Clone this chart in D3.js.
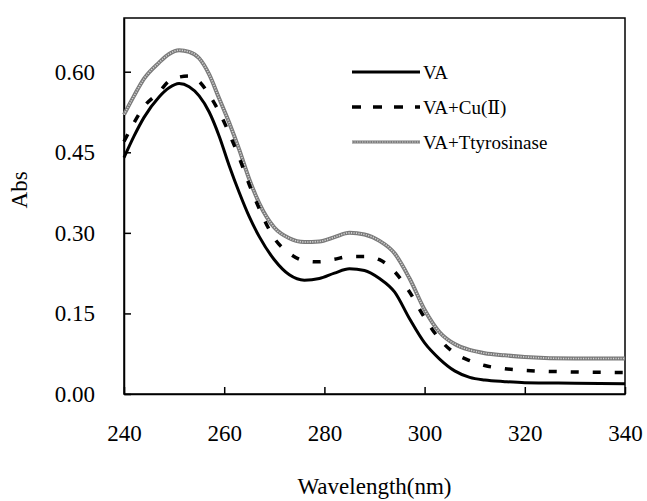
<!DOCTYPE html>
<html>
<head>
<meta charset="utf-8">
<script src="https://cdn.jsdelivr.net/npm/d3@7/dist/d3.min.js"></script>
<style>
  body { margin: 0; background: #fff; }
</style>
</head>
<body>
<svg id="chart" width="647" height="501"></svg>
<script>
// wavelengths (nm) sampled along each curve
var wl = [240, 242, 244, 247, 249, 251, 253, 255, 257, 259, 261, 263, 265, 267, 270, 273, 276, 279, 282, 285, 288, 291, 294, 297, 300, 303, 306, 309, 312, 316, 320, 330, 340];

// absorbance
var va    = [0.44, 0.48, 0.515, 0.553, 0.57, 0.578, 0.572, 0.555, 0.525, 0.48, 0.425, 0.375, 0.33, 0.293, 0.25, 0.222, 0.212, 0.215, 0.225, 0.233, 0.23, 0.215, 0.19, 0.14, 0.095, 0.065, 0.043, 0.031, 0.026, 0.023, 0.021, 0.02, 0.019];
var vaCu  = [0.47, 0.505, 0.535, 0.562, 0.583, 0.59, 0.592, 0.582, 0.557, 0.525, 0.485, 0.44, 0.39, 0.345, 0.29, 0.262, 0.248, 0.246, 0.251, 0.256, 0.256, 0.25, 0.228, 0.19, 0.142, 0.102, 0.076, 0.062, 0.053, 0.047, 0.044, 0.041, 0.04];
var vaTyr = [0.52, 0.555, 0.587, 0.617, 0.633, 0.64, 0.637, 0.625, 0.595, 0.55, 0.505, 0.455, 0.40, 0.355, 0.31, 0.29, 0.283, 0.284, 0.292, 0.30, 0.297, 0.285, 0.262, 0.215, 0.157, 0.115, 0.093, 0.082, 0.076, 0.072, 0.069, 0.066, 0.066];

var xTicks = [240, 260, 280, 300, 320, 340];
var yTicks = [0, 0.15, 0.30, 0.45, 0.60];
var seriesNames = ["VA", "VA+Cu(\u2161)", "VA+Ttyrosinase"];

var FONT = "'Liberation Serif', 'Times New Roman', 'DejaVu Serif', 'Noto Serif', serif";

var margin = {top: 18, right: 22, bottom: 107, left: 124};
var width = 647 - margin.left - margin.right,
    height = 501 - margin.top - margin.bottom;

var svg = d3.select("#chart").attr("font-family", FONT);
var g = svg.append("g")
    .attr("transform", "translate(" + margin.left + "," + margin.top + ")");

var x = d3.scaleLinear().domain([240, 340]).range([0, width]);
var y = d3.scaleLinear().domain([0, 0.7]).range([height, 0]);

// frame
g.append("rect")
    .attr("width", width).attr("height", height)
    .attr("fill", "none").attr("stroke", "#000").attr("stroke-width", 1.5);

// axes, ticks pointing inwards
var xAxis = g.append("g")
    .attr("transform", "translate(0," + height + ")")
    .call(d3.axisBottom(x).tickValues(xTicks).tickSizeInner(-7).tickSizeOuter(0).tickPadding(31));
var yAxis = g.append("g")
    .call(d3.axisLeft(y).tickValues(yTicks).tickFormat(d3.format(".2f")).tickSizeInner(-7).tickSizeOuter(0).tickPadding(29));

[xAxis, yAxis].forEach(function(a) {
    a.attr("font-family", FONT).attr("font-size", 23);
    a.select(".domain").attr("stroke-width", 1.5);
    a.selectAll(".tick line").attr("stroke-width", 1.5);
    a.selectAll(".tick text").attr("fill", "#000");
});

// axis titles
g.append("text")
    .attr("x", width / 2).attr("y", height + 100)
    .attr("text-anchor", "middle")
    .attr("font-size", 23)
    .text("Wavelength(nm)");
g.append("text")
    .attr("transform", "translate(" + (19 - margin.left) + "," + y(0.38) + ") rotate(-90)")
    .attr("text-anchor", "middle")
    .attr("dy", "0.35em")
    .attr("font-size", 23)
    .text("Abs");

var line = d3.line()
    .x(function(d) { return x(d[0]); })
    .y(function(d) { return y(d[1]); })
    .curve(d3.curveMonotoneX);

function pairs(vals) { return wl.map(function(w, i) { return [w, vals[i]]; }); }

// VA + tyrosinase: grey textured line
g.append("path").datum(pairs(vaTyr))
    .attr("d", line).attr("fill", "none")
    .attr("stroke", "#7a7a7a").attr("stroke-width", 4);
g.append("path").datum(pairs(vaTyr))
    .attr("d", line).attr("fill", "none")
    .attr("stroke", "#d4d4d4").attr("stroke-width", 1.6).attr("stroke-dasharray", "1.2,1.3");

// VA + Cu(II): dashed
g.append("path").datum(pairs(vaCu))
    .attr("d", line).attr("fill", "none")
    .attr("stroke", "#000").attr("stroke-width", 3.5).attr("stroke-dasharray", "8,14");

// VA: solid
g.append("path").datum(pairs(va))
    .attr("d", line).attr("fill", "none")
    .attr("stroke", "#000").attr("stroke-width", 3);

// legend
var legend = svg.append("g").attr("transform", "translate(352,72)");
var rowGap = 35;
legend.append("line").attr("x1", 0).attr("x2", 68).attr("y1", 0).attr("y2", 0)
    .attr("stroke", "#000").attr("stroke-width", 3);
legend.append("line").attr("x1", 0).attr("x2", 68).attr("y1", rowGap).attr("y2", rowGap)
    .attr("stroke", "#000").attr("stroke-width", 3.5).attr("stroke-dasharray", "9,12");
legend.append("line").attr("x1", 0).attr("x2", 68).attr("y1", 2 * rowGap).attr("y2", 2 * rowGap)
    .attr("stroke", "#7a7a7a").attr("stroke-width", 3);
legend.append("line").attr("x1", 0).attr("x2", 68).attr("y1", 2 * rowGap).attr("y2", 2 * rowGap)
    .attr("stroke", "#d4d4d4").attr("stroke-width", 1.2).attr("stroke-dasharray", "1.2,1.3");

legend.selectAll("text.lab").data(seriesNames).enter()
    .append("text").attr("class", "lab")
    .attr("x", 71).attr("y", function(d, i) { return i * rowGap; })
    .attr("dy", "0.35em")
    .attr("font-size", 19)
    .text(function(d) { return d; });
</script>
</body>
</html>
